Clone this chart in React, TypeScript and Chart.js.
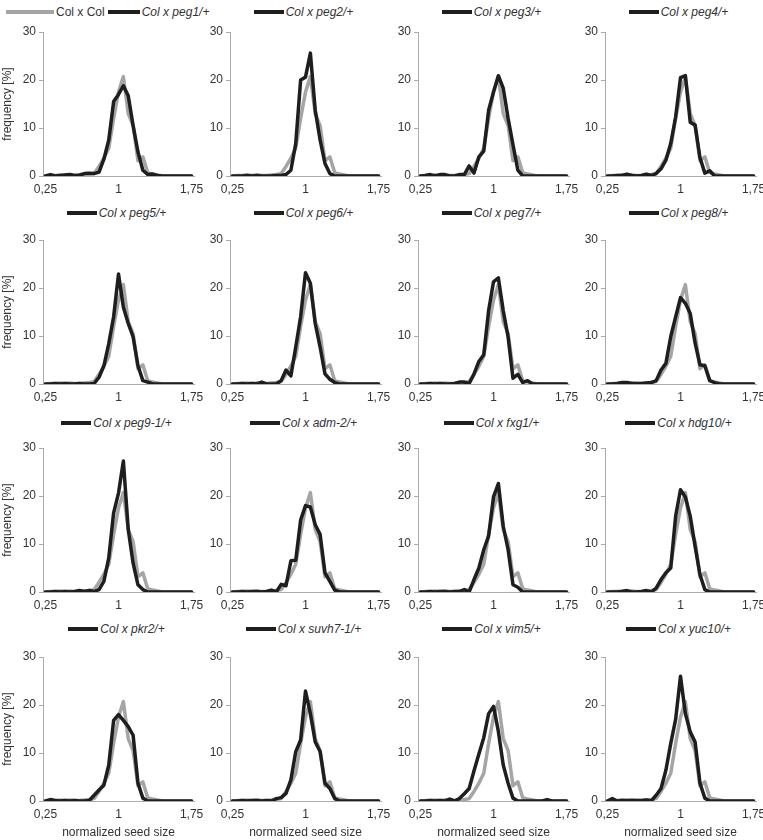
import React, { useEffect, useRef } from "react";
import { Chart, registerables } from "chart.js";

Chart.register(...registerables);

// ---------- data ----------
const bins = [
  0.25, 0.3, 0.35, 0.4, 0.45, 0.5, 0.55, 0.6, 0.65, 0.7, 0.75, 0.8, 0.85, 0.9, 0.95, 1.0,
  1.05, 1.1, 1.15, 1.2, 1.25, 1.3, 1.35, 1.4, 1.45, 1.5, 1.55, 1.6, 1.65, 1.7, 1.75,
];
const xTickValues = [0.25, 1, 1.75];
const xTickLabels = ["0,25", "1", "1,75"];
const yTickValues = [0, 10, 20, 30];

const colCol = [0, 0.1, 0.1, 0.2, 0.1, 0.2, 0.1, 0.1, 0.2, 0.3, 0.5, 2, 3.7, 5.8, 12, 17.5, 20.7, 13, 10.5, 3.2, 4, 0.7, 0.4, 0.2, 0, 0, 0, 0, 0, 0, 0];

const peg1 = [0, 0.3, 0, 0.1, 0.2, 0.3, 0.1, 0.2, 0.5, 0.6, 0.5, 0.8, 3.5, 7.5, 15.5, 17, 18.8, 16.7, 10.5, 5, 1.2, 0.3, 0.4, 0.1, 0, 0, 0, 0, 0, 0, 0];
const peg2 = [0, 0, 0, 0.1, 0, 0.1, 0, 0, 0, 0.1, 0.1, 0.3, 1.2, 6.8, 20, 20.6, 25.6, 13.7, 7.5, 2.6, 0.5, 0, 0, 0, 0, 0, 0, 0, 0, 0, 0];
const peg3 = [0, 0.1, 0.3, 0, 0.3, 0.3, 0, 0, 0.3, 0.3, 2.1, 0.6, 4, 5.2, 13.7, 17.5, 20.9, 18.3, 12, 6.5, 1.2, 0, 0, 0, 0, 0, 0, 0, 0, 0, 0];
const peg4 = [0, 0, 0.1, 0.1, 0.4, 0.1, 0, 0.1, 0.4, 0.1, 0.5, 1.5, 3.3, 6.8, 12.3, 20.5, 20.9, 11.2, 10.6, 3.8, 0.6, 1.1, 0, 0, 0, 0, 0, 0, 0, 0, 0];
const peg5 = [0, 0, 0.1, 0, 0.1, 0, 0, 0.1, 0, 0, 0.1, 1.4, 3.8, 8.4, 14, 22.9, 16, 12.6, 9.8, 3.8, 0.7, 0.4, 0, 0, 0, 0, 0, 0, 0, 0, 0];
const peg6 = [0, 0, 0.1, 0, 0.1, 0, 0.4, 0, 0, 0, 0.7, 2.9, 1.7, 7.7, 14, 23.2, 21, 12.6, 7.7, 2.1, 1.0, 0.3, 0, 0, 0, 0, 0, 0, 0, 0, 0];
const peg7 = [0, 0, 0.1, 0, 0.1, 0, 0, 0.1, 0.4, 0.4, 0.1, 2.1, 4.7, 6.1, 15.3, 21.3, 22.1, 15.3, 9.8, 1.2, 2.0, 0.3, 0.7, 0, 0, 0, 0, 0, 0, 0, 0];
const peg8 = [0, 0, 0.1, 0.3, 0.3, 0.1, 0.1, 0.1, 0.2, 0.3, 0.7, 2.9, 4.3, 9.9, 14, 18, 16.8, 14.7, 8.5, 4, 3.8, 0.7, 0.3, 0, 0, 0, 0, 0, 0, 0, 0];
const peg91 = [0, 0, 0.1, 0, 0.1, 0, 0.1, 0.3, 0.1, 0.3, 0.1, 0.5, 2.2, 7.1, 16.5, 20.6, 27.3, 13, 6, 1.5, 0.5, 0, 0, 0, 0, 0, 0, 0, 0, 0, 0];
const adm2 = [0, 0, 0.1, 0, 0.1, 0.1, 0, 0.1, 0.4, 0, 1.6, 1.3, 6.5, 6.6, 15, 18, 17.7, 14, 12, 4, 2.2, 0.4, 0, 0, 0, 0, 0, 0, 0, 0, 0];
const fxg1 = [0, 0, 0.1, 0, 0.1, 0.1, 0, 0.1, 0.1, 0.5, 0, 2.6, 5, 8.8, 11.7, 19.8, 22.6, 13.7, 8.8, 1.5, 1.0, 0, 0, 0, 0, 0, 0, 0, 0, 0, 0];
const hdg10 = [0, 0, 0, 0.1, 0.3, 0, 0, 0.1, 0.3, 0, 0.8, 2.6, 4, 5, 15.8, 21.3, 19.8, 15.8, 9.5, 3.6, 0.5, 0, 0, 0, 0, 0, 0, 0, 0, 0, 0];
const pkr2 = [0, 0.3, 0.1, 0, 0.1, 0, 0.1, 0, 0, 0.1, 1.2, 2.3, 3.3, 7.5, 16.8, 18, 16.8, 15.5, 13.7, 3.7, 0.6, 0, 0, 0, 0, 0, 0, 0, 0, 0, 0];
const suvh71 = [0, 0, 0.1, 0, 0.1, 0.1, 0, 0.1, 0, 0.5, 0.7, 1.6, 4.4, 10.3, 12.7, 22.9, 18.2, 12.3, 10.3, 3.7, 2.6, 0.5, 0, 0, 0, 0, 0, 0, 0, 0, 0];
const vim5 = [0, 0, 0.1, 0, 0.1, 0, 0.4, 0, 0.5, 1.5, 2.6, 6.3, 9.8, 13.2, 18.2, 19.7, 14.5, 7.5, 3.7, 0.6, 0, 0, 0, 0, 0, 0, 0.3, 0, 0, 0, 0];
const yuc10 = [0, 0.5, 0, 0.1, 0.1, 0.1, 0.1, 0.1, 0.2, 0, 1.2, 2.6, 6.4, 12, 17, 26, 18.2, 14.4, 12.3, 3.7, 0.6, 0, 0, 0, 0, 0, 0, 0, 0, 0, 0];

const controlLabel = "Col x Col";
const panelLabels = [
  "Col x peg1/+", "Col x peg2/+", "Col x peg3/+", "Col x peg4/+",
  "Col x peg5/+", "Col x peg6/+", "Col x peg7/+", "Col x peg8/+",
  "Col x peg9-1/+", "Col x adm-2/+", "Col x fxg1/+", "Col x hdg10/+",
  "Col x pkr2/+", "Col x suvh7-1/+", "Col x vim5/+", "Col x yuc10/+",
];
const panelSeries = [
  peg1, peg2, peg3, peg4, peg5, peg6, peg7, peg8,
  peg91, adm2, fxg1, hdg10, pkr2, suvh71, vim5, yuc10,
];
const yTitle = "frequency [%]";
const xTitle = "normalized seed size";

// ---------- style / layout ----------
const BLACK = "#1e1e1e";
const GRAY = "#a5a5a5";
const AXIS = "#ababab";
const TEXT = "#333333";
const FONT = "'Liberation Sans', Arial, sans-serif";

const COL_LEFT = [43, 230, 418, 605];
const ROW_TOP = [32, 240, 448, 657];
const LEGEND_Y = [12, 213, 423, 629];
const PLOT_W = 151;
const PLOT_H = 144;
const PAD_TOP = 12;
const PAD_RIGHT = 16;

Chart.defaults.font.family = FONT;
Chart.defaults.font.size = 12;
Chart.defaults.color = TEXT;

function Panel({ idx }: { idx: number }) {
  const ref = useRef<HTMLCanvasElement | null>(null);
  const row = Math.floor(idx / 4);
  const col = idx % 4;
  const canvasLeft = col === 0 ? 0 : COL_LEFT[col] - 40;
  const yw = COL_LEFT[col] - canvasLeft;
  const canvasTop = ROW_TOP[row] - PAD_TOP;
  const xh = row === 3 ? 840 - (ROW_TOP[row] + PLOT_H) : 22;
  const w = yw + PLOT_W + PAD_RIGHT;
  const h = PAD_TOP + PLOT_H + xh;

  useEffect(() => {
    if (!ref.current) return;
    const series = panelSeries[idx];
    const lineStyle = {
      borderWidth: 3.5,
      pointRadius: 0,
      tension: 0,
      borderJoinStyle: "round",
      borderCapStyle: "round",
    };
    const chart = new Chart(ref.current, {
      type: "line",
      data: {
        datasets: [
          {
            label: panelLabels[idx],
            data: bins.map((x, i) => ({ x, y: series[i] })),
            borderColor: BLACK,
            order: 0,
            ...lineStyle,
          },
          {
            label: controlLabel,
            data: bins.map((x, i) => ({ x, y: colCol[i] })),
            borderColor: GRAY,
            order: 1,
            ...lineStyle,
          },
        ],
      },
      options: {
        responsive: false,
        maintainAspectRatio: false,
        animation: false,
        layout: { padding: { top: PAD_TOP, right: PAD_RIGHT, left: 0, bottom: 0 } },
        plugins: { legend: { display: false }, tooltip: { enabled: false } },
        scales: {
          x: {
            type: "linear",
            min: 0.225,
            max: 1.775,
            afterBuildTicks: (s: any) => {
              s.ticks = xTickValues.map((v) => ({ value: v }));
            },
            afterFit: (s: any) => {
              s.height = xh;
            },
            ticks: {
              autoSkip: false,
              maxRotation: 0,
              padding: 6,
              color: TEXT,
              callback: (_v: any, i: number) => xTickLabels[i],
            },
            grid: { display: false, drawTicks: false },
            border: { display: true, color: AXIS, width: 1 },
            title: {
              display: row === 3,
              text: xTitle,
              color: TEXT,
              padding: { top: 0, bottom: 0 },
              font: { size: 12, family: FONT },
            },
          },
          y: {
            type: "linear",
            min: 0,
            max: 30,
            afterBuildTicks: (s: any) => {
              s.ticks = yTickValues.map((v) => ({ value: v }));
            },
            afterFit: (s: any) => {
              s.width = yw;
            },
            ticks: { padding: 3, color: TEXT },
            grid: { drawOnChartArea: false, drawTicks: true, tickLength: 4, color: AXIS },
            border: { display: true, color: AXIS, width: 1 },
            title: {
              display: col === 0,
              text: yTitle,
              color: TEXT,
              padding: { top: 0, bottom: 0 },
              font: { size: 12, family: FONT },
            },
          },
        },
      },
    } as any);
    return () => chart.destroy();
  }, [idx]);

  return (
    <canvas
      ref={ref}
      width={w}
      height={h}
      style={{ position: "absolute", left: canvasLeft, top: canvasTop, width: w, height: h }}
    />
  );
}

function LegendLine({ color, width }: { color: string; width: number }) {
  return (
    <span
      style={{ display: "inline-block", width, height: 4, background: color, marginRight: 2 }}
    />
  );
}

function Legend({ idx }: { idx: number }) {
  const row = Math.floor(idx / 4);
  const col = idx % 4;
  const textStyle: React.CSSProperties = {
    fontFamily: FONT,
    fontSize: 12,
    color: TEXT,
    whiteSpace: "nowrap",
    lineHeight: "14px",
  };
  if (idx === 0) {
    return (
      <div
        style={{
          position: "absolute",
          left: 6,
          top: LEGEND_Y[row] - 7,
          height: 14,
          display: "flex",
          alignItems: "center",
        }}
      >
        <LegendLine color={GRAY} width={48} />
        <span style={{ ...textStyle, marginRight: 3 }}>{controlLabel}</span>
        <LegendLine color={BLACK} width={32} />
        <span style={{ ...textStyle, fontStyle: "italic" }}>{panelLabels[idx]}</span>
      </div>
    );
  }
  return (
    <div
      style={{
        position: "absolute",
        left: COL_LEFT[col] - 2,
        width: PLOT_W,
        top: LEGEND_Y[row] - 7,
        height: 14,
        display: "flex",
        justifyContent: "center",
        alignItems: "center",
      }}
    >
      <LegendLine color={BLACK} width={30} />
      <span style={{ ...textStyle, fontStyle: "italic" }}>{panelLabels[idx]}</span>
    </div>
  );
}

export default function App() {
  return (
    <div
      style={{
        position: "absolute",
        left: 0,
        top: 0,
        width: 763,
        height: 840,
        background: "#ffffff",
        overflow: "hidden",
      }}
    >
      {panelLabels.map((_, i) => (
        <Panel key={"p" + i} idx={i} />
      ))}
      {panelLabels.map((_, i) => (
        <Legend key={"l" + i} idx={i} />
      ))}
    </div>
  );
}
